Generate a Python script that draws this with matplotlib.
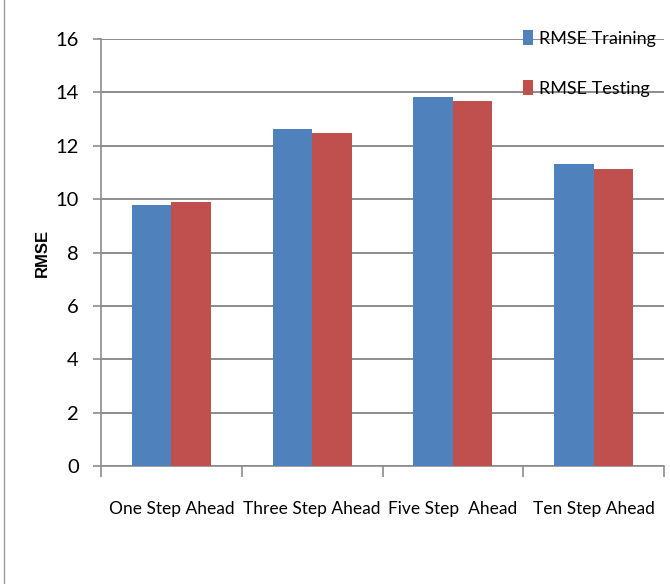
import matplotlib.pyplot as plt
import matplotlib.patches as mpatches
import numpy as np

categories = ["One Step Ahead", "Three Step Ahead", "Five Step  Ahead", "Ten Step Ahead"]
rmse_training = [9.78, 12.61, 13.81, 11.32]
rmse_testing = [9.91, 12.47, 13.68, 11.12]
y_ticks = [0, 2, 4, 6, 8, 10, 12, 14, 16]

BLUE = "#4F81BD"
RED = "#C0504D"
GRID = "#8C8C8C"

plt.rcParams["font.family"] = ["Lato", "DejaVu Sans"]

fig = plt.figure(figsize=(6.70, 5.84), dpi=100)

# outer chart frame
fig.patches.append(
    mpatches.Rectangle(
        (4 / 670, -0.01), 1.0, 1.05,
        transform=fig.transFigure,
        fill=False,
        edgecolor="#9A9A9A",
        linewidth=1.0
    )
)

ax = fig.add_axes([101 / 670, 1 - 466 / 584, 563 / 670, 427 / 584])

x = np.arange(len(categories))
w = 0.28

ax.bar(x - w / 2, rmse_training, w, color=BLUE, label="RMSE Training", zorder=3)
ax.bar(x + w / 2, rmse_testing, w, color=RED, label="RMSE Testing", zorder=3)

ax.set_xlim(-0.5, len(categories) - 0.5)
ax.set_ylim(0, 16)
ax.set_yticks(y_ticks)
ax.set_yticklabels([str(v) for v in y_ticks], fontsize=14.5)
ax.yaxis.grid(True, color=GRID, linewidth=1.4, zorder=0)

ax.set_xticks(np.arange(len(categories) + 1) - 0.5)
ax.set_xticklabels([])
ax.set_xticks(x, minor=True)
ax.set_xticklabels(categories, minor=True, fontsize=12.5)
ax.tick_params(axis="x", which="major", length=8, color=GRID, width=1.2)
ax.tick_params(axis="x", which="minor", length=0, pad=25)
ax.tick_params(axis="y", length=6, color=GRID, width=1.2, pad=10)

for side in ["top", "right"]:
    ax.spines[side].set_visible(False)
ax.spines["left"].set_color(GRID)
ax.spines["bottom"].set_color(GRID)
ax.spines["left"].set_linewidth(1.2)
ax.spines["bottom"].set_linewidth(1.2)

ax.set_ylabel("RMSE", fontsize=12, fontweight="bold",
              family=["Liberation Sans", "DejaVu Sans"])
ax.yaxis.set_label_coords(-0.09, 0.5)

leg = ax.legend(
    loc="upper right",
    bbox_to_anchor=(1 - 14 / 670, 1 - 30 / 584),
    bbox_transform=fig.transFigure,
    frameon=False,
    fontsize=13,
    labelspacing=1.85,
    handlelength=0.55,
    handleheight=0.9,
    handletextpad=0.35,
    borderpad=0,
    borderaxespad=0
)
leg.set_zorder(5)

plt.savefig("out.png", dpi=100)
plt.close()
